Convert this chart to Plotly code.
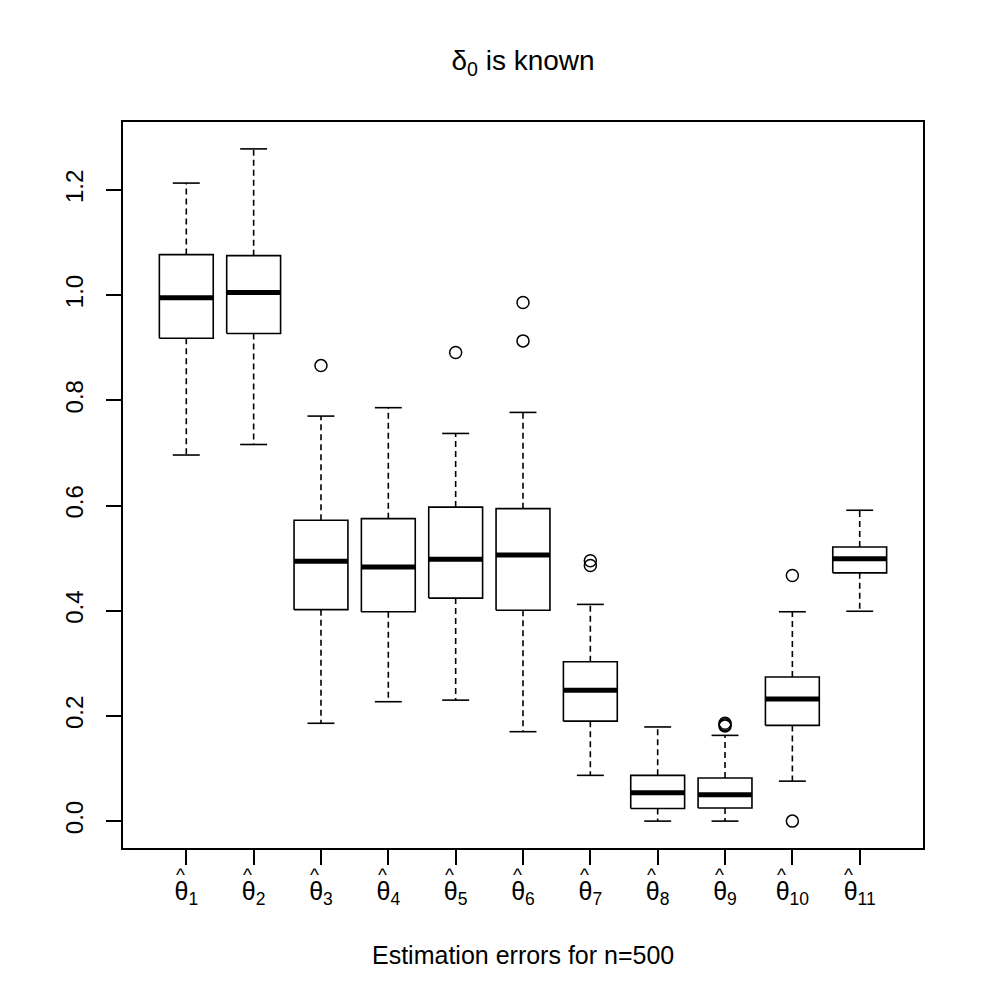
import plotly.graph_objects as go

# ---- data ----
subscripts = ["1", "2", "3", "4", "5", "6", "7", "8", "9", "10", "11"]
lower_whisker = [0.696, 0.716, 0.186, 0.227, 0.230, 0.170, 0.087, 0.000, 0.000, 0.076, 0.399]
q1 = [0.918, 0.927, 0.402, 0.398, 0.424, 0.401, 0.190, 0.024, 0.025, 0.182, 0.472]
median = [0.995, 1.005, 0.494, 0.483, 0.498, 0.506, 0.249, 0.054, 0.050, 0.232, 0.499]
q3 = [1.077, 1.075, 0.572, 0.575, 0.597, 0.594, 0.303, 0.087, 0.082, 0.274, 0.521]
upper_whisker = [1.213, 1.278, 0.770, 0.786, 0.737, 0.777, 0.412, 0.179, 0.163, 0.398, 0.591]
outlier_box = [3, 5, 6, 6, 7, 7, 9, 9, 9, 10, 10]
outlier_val = [0.866, 0.891, 0.913, 0.986, 0.495, 0.486, 0.186, 0.183, 0.181, 0.467, 0.000]
y_ticks = [0.0, 0.2, 0.4, 0.6, 0.8, 1.0, 1.2]

FONT = "Liberation Sans, Arial, Helvetica, sans-serif"
n = len(subscripts)
pos = list(range(1, n + 1))
half_box = 0.4
half_cap = 0.2

box_x, box_y, med_x, med_y = [], [], [], []
wh_x, wh_y, cap_x, cap_y = [], [], [], []
for i, p in enumerate(pos):
    box_x += [p - half_box, p + half_box, p + half_box, p - half_box, p - half_box, None]
    box_y += [q1[i], q1[i], q3[i], q3[i], q1[i], None]
    med_x += [p - half_box, p + half_box, None]
    med_y += [median[i], median[i], None]
    wh_x += [p, p, None, p, p, None]
    wh_y += [q3[i], upper_whisker[i], None, q1[i], lower_whisker[i], None]
    cap_x += [p - half_cap, p + half_cap, None, p - half_cap, p + half_cap, None]
    cap_y += [upper_whisker[i], upper_whisker[i], None, lower_whisker[i], lower_whisker[i], None]

fig = go.Figure()
fig.add_trace(go.Scatter(x=wh_x, y=wh_y, mode="lines",
                         line=dict(color="black", width=1.6, dash="6px,4px"), hoverinfo="skip"))
fig.add_trace(go.Scatter(x=cap_x, y=cap_y, mode="lines",
                         line=dict(color="black", width=1.6), hoverinfo="skip"))
fig.add_trace(go.Scatter(x=box_x, y=box_y, mode="lines",
                         line=dict(color="black", width=1.6), hoverinfo="skip"))
fig.add_trace(go.Scatter(x=med_x, y=med_y, mode="lines",
                         line=dict(color="black", width=5), hoverinfo="skip"))
fig.add_trace(go.Scatter(x=outlier_box, y=outlier_val, mode="markers",
                         marker=dict(symbol="circle-open", size=12, color="black",
                                     line=dict(width=1.5, color="black")), hoverinfo="skip"))

all_vals = lower_whisker + upper_whisker + outlier_val
lo, hi = min(all_vals), max(all_vals)
pad = 0.04 * (hi - lo)
xpad = 0.04 * n

# hats over theta (annotations tied to each category)
for p, s in zip(pos, subscripts):
    fig.add_annotation(x=p, y=0, xref="x", yref="paper", text="^", showarrow=False,
                       xshift=-6 if len(s) == 1 else -11, yshift=-14, yanchor="top",
                       font=dict(family=FONT, size=19, color="black"))

fig.add_annotation(x=0.5, y=-0.1474, xref="paper", yref="paper",
                   text="Estimation errors for n=500", showarrow=False, yanchor="middle",
                   font=dict(family=FONT, size=25, color="black"))

fig.update_layout(
    width=988, height=1003,
    margin=dict(l=123, r=65, t=122, b=155),
    paper_bgcolor="white", plot_bgcolor="white",
    showlegend=False,
    font=dict(family=FONT, size=24, color="black"),
    title=dict(text="δ<sub>0</sub> is known", x=0.5, xref="paper", xanchor="center",
               y=1 - 60 / 1003, yref="container", yanchor="middle",
               font=dict(family=FONT, size=28, color="black")),
    xaxis=dict(range=[0.5 - xpad, n + 0.5 + xpad], tickmode="array", tickvals=pos,
               ticktext=["θ<sub>%s</sub>" % s for s in subscripts],
               ticks="outside", ticklen=15, tickwidth=1.5, tickcolor="black",
               ticklabelstandoff=5,
               showline=True, mirror=True, linecolor="black", linewidth=1.5,
               showgrid=False, zeroline=False, tickfont=dict(family=FONT, size=25)),
    yaxis=dict(range=[lo - pad, hi + pad], tickmode="array", tickvals=y_ticks,
               ticktext=["%.1f" % v for v in y_ticks], tickangle=-90,
               ticks="outside", ticklen=15, tickwidth=1.5, tickcolor="black",
               ticklabelstandoff=14,
               showline=True, mirror=True, linecolor="black", linewidth=1.5,
               showgrid=False, zeroline=False, tickfont=dict(family=FONT, size=24)),
)

fig.write_html("out.html")
